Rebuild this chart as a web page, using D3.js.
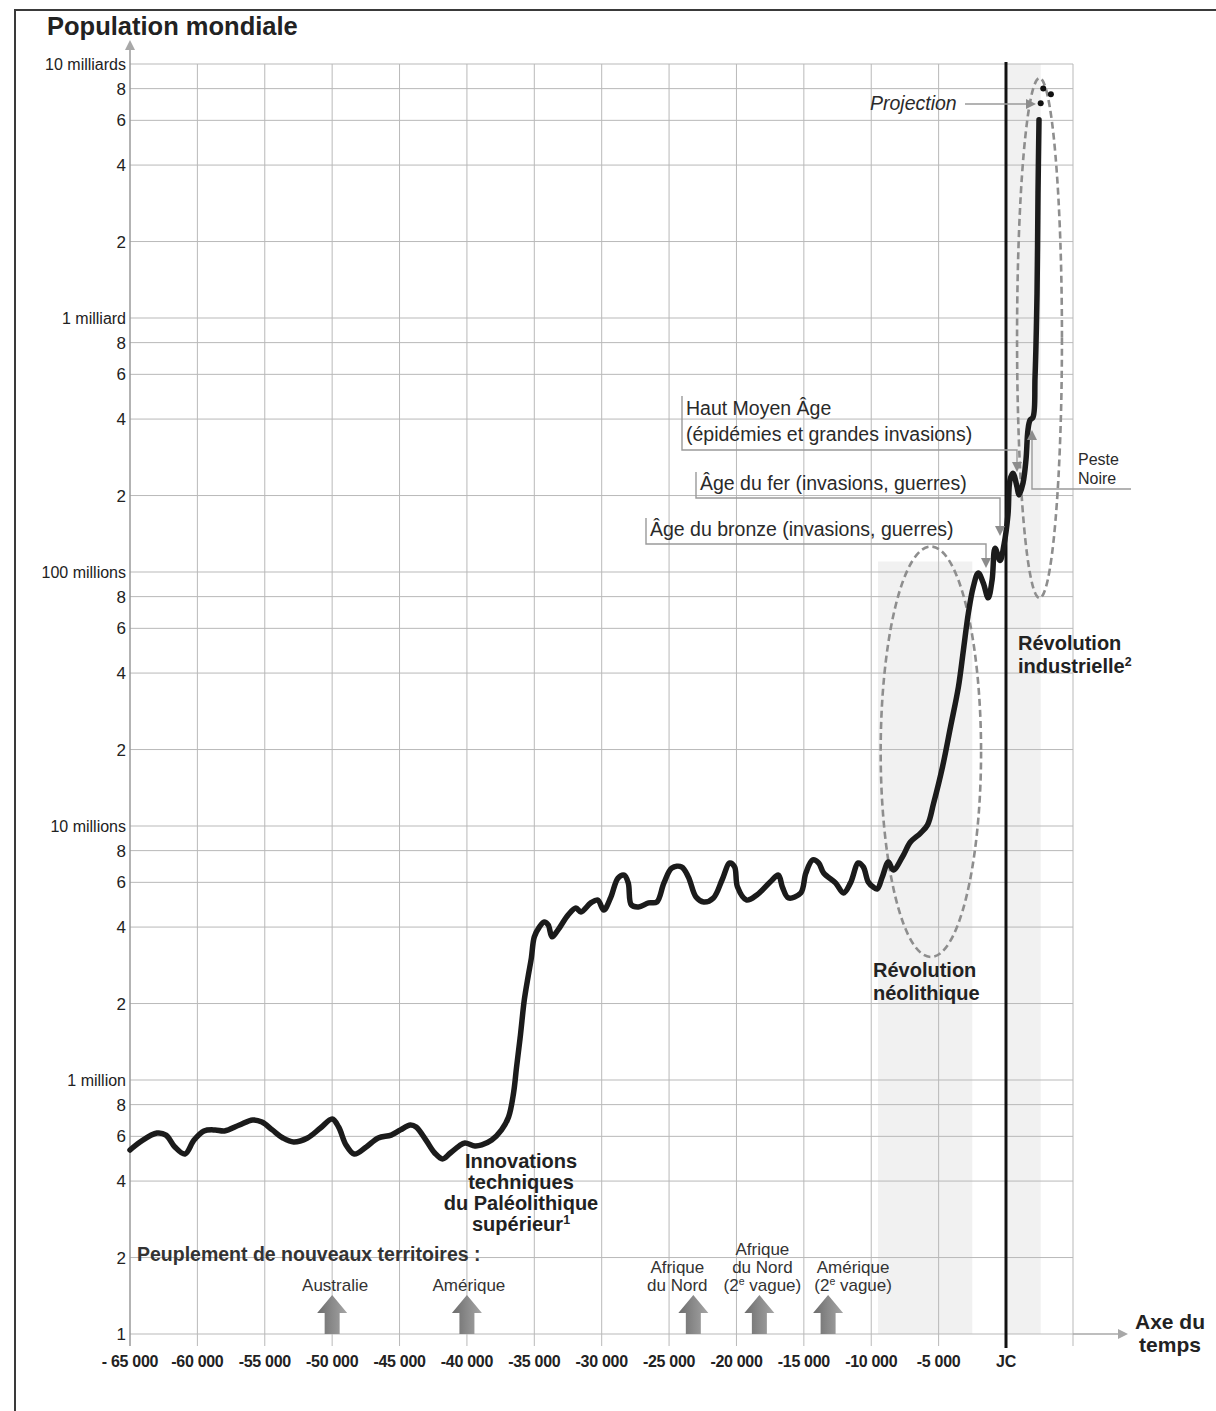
<!DOCTYPE html>
<html><head><meta charset="utf-8">
<script src="https://cdn.jsdelivr.net/npm/d3@7"></script>
<style>
html,body{margin:0;padding:0;background:#fff}
svg{display:block}
text{font-family:"Liberation Sans",Arial,Helvetica,sans-serif;fill:#222}
</style>
</head><body>
<svg id="chart" width="1216" height="1411"></svg>
<script>
// ---------------- DATA ----------------
const years = [
 -65000,-64250,-63000,-62330,-61670,-60920,-60250,-59510,-58680,-57990,-56880,-55900,-55210,-54440,-53650,-52860,-51830,-50870,-50000,
 -49520,-48970,-48360,-47470,-46580,-45620,-44930,-44200,-43770,-43040,-42390,-41810,-41230,-40580,-40150,-39410,-38900,-38160,-37430,
 -36910,-36540,-36320,-36030,-35740,-35440,-35220,-35000,-34630,-34270,-33970,-33680,-33240,-32500,-31910,-31540,-30810,-30290,-29850,
 -29320,-28790,-28330,-28030,-27800,-27270,-26520,-25910,-25380,-24790,-24070,-23570,-23000,-22430,-21710,-21070,-20500,-20140,-19920,
 -19240,-18490,-17500,-16890,-16590,-16140,-15230,-14850,-14340,-13900,-13530,-12650,-12060,-11540,-10960,-10590,-10220,-9850,-9550,
 -9180,-8730,-8360,-7690,-7090,-6340,-5820,-5370,-4710,-4120,-3530,-3160,-2790,-2430,-2060,-1690,-1320,-1030,-810,-440,-150,
 120,240,420,670,790,1030,1210,1330,1455,1640,1760,1880,1940,2000
];
const population = [
 5.30e5,5.70e5,6.18e5,6.07e5,5.45e5,5.11e5,5.80e5,6.30e5,6.36e5,6.30e5,6.65e5,6.96e5,6.83e5,6.36e5,5.91e5,5.70e5,5.91e5,6.47e5,7.02e5,
 6.53e5,5.55e5,5.11e5,5.45e5,5.91e5,6.07e5,6.36e5,6.65e5,6.53e5,5.80e5,5.16e5,4.89e5,5.16e5,5.50e5,5.65e5,5.50e5,5.55e5,5.80e5,6.36e5,
 7.15e5,8.89e5,1.12e6,1.50e6,2.07e6,2.59e6,3.02e6,3.66e6,4.00e6,4.19e6,4.08e6,3.66e6,3.90e6,4.46e6,4.75e6,4.59e6,4.98e6,5.11e6,4.67e6,
 5.25e6,6.24e6,6.41e6,5.97e6,4.89e6,4.80e6,4.98e6,5.02e6,5.97e6,6.83e6,6.90e6,6.30e6,5.25e6,5.02e6,5.21e6,6.13e6,7.15e6,6.90e6,5.75e6,
 5.11e6,5.35e6,6.02e6,6.41e6,5.75e6,5.21e6,5.45e6,6.53e6,7.35e6,7.15e6,6.53e6,5.97e6,5.45e6,5.97e6,7.15e6,6.90e6,6.02e6,5.75e6,5.65e6,
 6.30e6,7.21e6,6.71e6,7.55e6,8.65e6,9.38e6,1.01e7,1.23e7,1.71e7,2.45e7,3.53e7,4.93e7,6.90e7,8.73e7,9.91e7,9.06e7,7.91e7,9.31e7,1.24e8,1.11e8,1.28e8,
 1.68e8,2.30e8,2.45e8,2.16e8,2.01e8,2.24e8,2.76e8,3.62e8,3.96e8,4.07e8,5.86e8,1.25e9,3.10e9,6.03e9
];
const projectionYears = [2010, 2025, 2070];
const projectionValues = [7.0e9, 8.0e9, 7.6e9];

const xTickYears = [-65000,-60000,-55000,-50000,-45000,-40000,-35000,-30000,-25000,-20000,-15000,-10000,-5000,0];
const xTickLabels = ["- 65 000","-60 000","-55 000","-50 000","-45 000","-40 000","-35 000","-30 000","-25 000","-20 000","-15 000","-10 000","-5 000","JC"];

const yTickValues = [1e5,2e5,4e5,6e5,8e5,1e6,2e6,4e6,6e6,8e6,1e7,2e7,4e7,6e7,8e7,1e8,2e8,4e8,6e8,8e8,1e9,2e9,4e9,6e9,8e9,1e10];
const yTickLabels = ["1","2","4","6","8","1 million","2","4","6","8","10 millions","2","4","6","8","100 millions","2","4","6","8","1 milliard","2","4","6","8","10 milliards"];

const settlementYears = [-50000, -40000, -23200, -18300, -13200];
const settlementLabels = [["Australie"],["Amérique"],["Afrique","du Nord"],["Afrique","du Nord","(2^e vague)"],["Amérique","(2^e vague)"]];

// highlighted periods (years) and their population extents
const neolithicPeriod = {x0:-9300, x1:-1850, v0:3.05e6, v1:1.26e8};
const industrialPeriod = {x0:670, x1:2135, v0:7.9e7, v1:8.8e9};
const neolithicBand = [-9500, -2500];
const industrialBand = [100, 2010];

// ---------------- LAYOUT ----------------
const svg = d3.select("#chart");
const x = d3.scaleLinear().domain([-65000, 0, 2000, 2200]).range([130, 1006, 1039, 1073]);
const y = d3.scaleLog().domain([1e5, 1e10]).range([1334, 64]);
const gridRight = x(2200), gridTop = y(1e10), gridBottom = y(1e5);

function rich(sel, str, size){
  const parts = str.split(/\^(.)/);
  parts.forEach((p,i)=>{
    if(!p) return;
    const t = sel.append("tspan").text(p);
    if(i%2===1) t.attr("font-size", size*0.62).attr("baseline-shift","super");
  });
}
function lines(xp, yp, arr, lh, size, opts={}){
  const g = svg.append("g");
  arr.forEach((s,i)=>{
    const t = g.append("text").attr("x",xp).attr("y",yp+i*lh).attr("font-size",size)
      .attr("text-anchor",opts.anchor||"start").attr("font-weight",opts.bold?"bold":"normal")
      .attr("font-style",opts.italic?"italic":"normal");
    if(opts.fill) t.style("fill",opts.fill);
    rich(t, s, size);
  });
  return g;
}
function tri(xp, yp, dir, s=5, fill="#8c8c8c"){
  let pts;
  if(dir==="down") pts=[[xp,yp],[xp-s,yp-2*s],[xp+s,yp-2*s]];
  if(dir==="up") pts=[[xp,yp],[xp-s,yp+2*s],[xp+s,yp+2*s]];
  if(dir==="right") pts=[[xp,yp],[xp-2*s,yp-s],[xp-2*s,yp+s]];
  svg.append("polygon").attr("points",pts.map(p=>p.join(",")).join(" ")).attr("fill",fill);
}

// frame
svg.append("rect").attr("x",15).attr("y",10).attr("width",1240).attr("height",1440)
  .attr("fill","none").attr("stroke","#3a3a3a").attr("stroke-width",2);

// shaded bands
svg.append("rect").attr("x",x(neolithicBand[0])).attr("y",y(1.1e8)).attr("width",x(neolithicBand[1])-x(neolithicBand[0]))
  .attr("height",gridBottom-y(1.1e8)).attr("fill","#f1f1f1");
svg.append("rect").attr("x",x(industrialBand[0])).attr("y",gridTop).attr("width",x(industrialBand[1])-x(industrialBand[0]))
  .attr("height",gridBottom-gridTop).attr("fill","#f1f1f1");

// grid
const grid = svg.append("g").attr("stroke","#b9b9b9").attr("stroke-width",1);
grid.selectAll("line.h").data(yTickValues).join("line")
  .attr("x1",x(-65000)).attr("x2",gridRight).attr("y1",d=>y(d)).attr("y2",d=>y(d));
grid.selectAll("line.v").data(xTickYears.slice(1)).join("line")
  .attr("x1",d=>x(d)).attr("x2",d=>x(d)).attr("y1",gridTop).attr("y2",gridBottom+12);
grid.append("line").attr("x1",gridRight).attr("x2",gridRight).attr("y1",gridTop).attr("y2",gridBottom+12);

// axes arrows
svg.append("line").attr("x1",x(-65000)).attr("x2",x(-65000)).attr("y1",gridBottom+12).attr("y2",48)
  .attr("stroke","#9a9a9a").attr("stroke-width",1.5);
tri(x(-65000), 40, "up", 5, "#a8a8a8");
svg.append("line").attr("x1",gridRight).attr("x2",1118).attr("y1",gridBottom).attr("y2",gridBottom)
  .attr("stroke","#a8a8a8").attr("stroke-width",1.5);
tri(1128, gridBottom, "right", 5, "#a8a8a8");

// y labels
const ylab = svg.append("g");
yTickValues.forEach((v,i)=>{
  const lab = yTickLabels[i];
  const isWord = lab.length>1;
  ylab.append("text").attr("x",126).attr("y",y(v)).attr("dy","0.36em").attr("text-anchor","end")
    .attr("font-size", isWord?16:17).text(lab);
});
// x labels
xTickYears.forEach((t,i)=>{
  svg.append("text").attr("x",x(t)).attr("y",1367).attr("text-anchor","middle")
    .attr("font-size",16).attr("font-weight","bold").attr("letter-spacing","-0.3").text(xTickLabels[i]);
});

// JC line
svg.append("line").attr("x1",x(0)).attr("x2",x(0)).attr("y1",gridTop-2).attr("y2",gridBottom+14)
  .attr("stroke","#111").attr("stroke-width",3);

// ellipses
function ell(p){
  const cx=(x(p.x0)+x(p.x1))/2, cy=(y(p.v0)+y(p.v1))/2;
  svg.append("ellipse").attr("cx",cx).attr("cy",cy).attr("rx",Math.abs(x(p.x1)-x(p.x0))/2)
    .attr("ry",Math.abs(y(p.v0)-y(p.v1))/2).attr("fill","none").attr("stroke","#8e8e8e")
    .attr("stroke-width",2.6).attr("stroke-dasharray","7,4");
}
ell(neolithicPeriod); ell(industrialPeriod);

// curve
const pts = years.map((yr,i)=>[yr,population[i]]);
svg.append("path").datum(pts)
  .attr("d", d3.line().x(d=>x(d[0])).y(d=>y(d[1])).curve(d3.curveCatmullRom.alpha(0.5)))
  .attr("fill","none").attr("stroke","#1b1b1b").attr("stroke-width",5.5)
  .attr("stroke-linejoin","round").attr("stroke-linecap","round");

// projection dots
svg.selectAll("circle.proj").data(projectionYears).join("circle")
  .attr("cx",(d)=>x(d)).attr("cy",(d,i)=>y(projectionValues[i])).attr("r",3).attr("fill","#111");

// callouts
const co = svg.append("g").attr("fill","none").attr("stroke","#9a9a9a").attr("stroke-width",1.4);
co.append("path").attr("d","M682,396 V450 H1017 V462");
tri(1017, 472, "down");
co.append("path").attr("d","M696,472 V498 H1000 V526");
tri(1000, 536, "down");
co.append("path").attr("d","M646,518 V544 H986 V558");
tri(986, 568, "down");
co.append("path").attr("d","M1131,489 H1032 V440");
tri(1032, 430, "up");
co.append("path").attr("d","M965,104 H1026");
tri(1036, 104, "right");

lines(686, 415, ["Haut Moyen Âge","(épidémies et grandes invasions)"], 26, 19.5, {fill:"#2a2a2a"});
lines(700, 490, ["Âge du fer (invasions, guerres)"], 20, 19.5, {fill:"#2a2a2a"});
lines(650, 536, ["Âge du bronze (invasions, guerres)"], 20, 19.5, {fill:"#2a2a2a"});
lines(1078, 465, ["Peste","Noire"], 18.5, 16, {fill:"#2a2a2a"});
lines(870, 110, ["Projection"], 20, 19.5, {italic:true, fill:"#2a2a2a"});

lines(1018, 650, ["Révolution","industrielle^2"], 23, 20, {bold:true});
lines(873, 977, ["Révolution","néolithique"], 23, 20, {bold:true});
lines(521, 1168, ["Innovations","techniques","du Paléolithique","supérieur^1"], 21, 20, {bold:true, anchor:"middle"});
lines(137, 1261, ["Peuplement de nouveaux territoires :"], 20, 19.5, {bold:true, fill:"#333"});

// settlement arrows
const defs = svg.append("defs");
const gr = defs.append("linearGradient").attr("id","ag").attr("x1","0").attr("x2","1").attr("y1","0").attr("y2","0");
gr.append("stop").attr("offset","0").attr("stop-color","#6c6c6c");
gr.append("stop").attr("offset","0.5").attr("stop-color","#8a8a8a");
gr.append("stop").attr("offset","1").attr("stop-color","#a5a5a5");
const labelDx = [3, 2, -16, 3, 25];
settlementYears.forEach((yr,i)=>{
  const cx = x(yr), yb = gridBottom;
  svg.append("path").attr("d",`M${cx-7.5},${yb} V${yb-21} H${cx-15} L${cx},${yb-39} L${cx+15},${yb-21} H${cx+7.5} V${yb} Z`)
    .attr("fill","url(#ag)");
  const arr = settlementLabels[i];
  lines(cx+labelDx[i], 1291-(arr.length-1)*18, arr, 18, 17, {anchor:"middle", fill:"#333"});
});

// titles
svg.append("text").attr("x",47).attr("y",35).attr("font-size",25.5).attr("font-weight","bold").text("Population mondiale");
lines(1170, 1329, ["Axe du","temps"], 23, 21, {bold:true, anchor:"middle"});
</script>
</body></html>
